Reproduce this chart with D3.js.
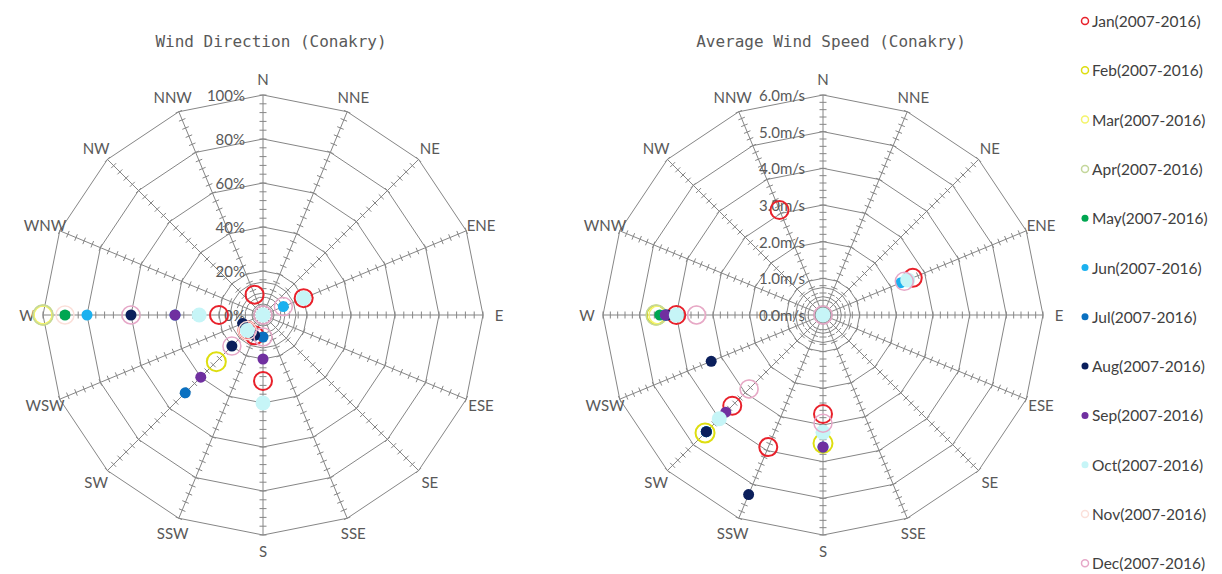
<!DOCTYPE html>
<html>
<head>
<meta charset="utf-8">
<script src="https://cdn.jsdelivr.net/npm/d3@7"></script>
<style>
  body { margin: 0; background: #fff; }
  svg text { font-family: Lato, "Open Sans", sans-serif; fill: #595959; }
  .title { font-family: "DejaVu Sans Mono", monospace; font-size: 16px; text-anchor: middle; }
  .dir-label { font-size: 15px; text-anchor: middle; dominant-baseline: central; }
  .axis-label { font-size: 15px; text-anchor: end; dominant-baseline: central; }
  .legend-text { font-size: 15.5px; fill: #404040; dominant-baseline: central; }
</style>
</head>
<body>
<div id="chart"></div>
<script>
// Directions, clockwise from north
const directions = ["N", "NNE", "NE", "ENE", "E", "ESE", "SE", "SSE",
                    "S", "SSW", "SW", "WSW", "W", "WNW", "NW", "NNW"];

const months = ["Jan(2007-2016)", "Feb(2007-2016)", "Mar(2007-2016)", "Apr(2007-2016)",
                "May(2007-2016)", "Jun(2007-2016)", "Jul(2007-2016)", "Aug(2007-2016)",
                "Sep(2007-2016)", "Oct(2007-2016)", "Nov(2007-2016)", "Dec(2007-2016)"];

// Frequency of direction (%), null = no point
//               N    NNE   NE   ENE   E    ESE   SE   SSE   S    SSW   SW   WSW   W    WNW   NW   NNW
const freqJan = [null,null,null,20,  null,null,null,null,30,  10,  10,  null,20,  null,null,10];
const freqFeb = [null,null,null,null,null,null,null,null,null,null,30,  null,100, null,null,null];
const freqMar = [null,null,null,null,null,null,null,null,null,null,null,null,100, null,null,null];
const freqApr = [null,null,null,null,null,null,null,null,null,null,null,null,100, null,null,null];
const freqMay = [null,null,null,null,null,null,null,null,null,null,10,  null,90,  null,null,null];
const freqJun = [null,null,null,10,  null,null,null,null,null,null,10,  null,80,  null,null,null];
const freqJul = [null,null,null,null,null,null,null,null,10,  null,50,  null,40,  null,null,null];
const freqAug = [null,null,null,null,null,null,null,null,null,10,  20,  10,  60,  null,null,null];
const freqSep = [null,null,null,null,null,null,null,null,20,  null,40,  null,40,  null,null,null];
const freqOct = [0,   null,null,20,  null,null,null,null,40,  null,10,  null,29,  null,null,null];
const freqNov = [null,null,null,null,null,null,null,null,null,null,10,  null,90,  null,null,null];
const freqDec = [0,   null,null,10,  null,null,null,null,10,  null,20,  null,60,  null,null,null];

// Average wind speed (m/s)
const speedJan = [null,null,null,2.65,null,null,null,null,2.7, 3.9, 3.5, null,4.0, null,null,3.1];
const speedFeb = [null,null,null,null,null,null,null,null,3.5, null,4.55,null,4.55,null,null,null];
const speedMar = [null,null,null,null,null,null,null,null,null,null,null,null,4.5, null,null,null];
const speedApr = [null,null,null,null,null,null,null,null,null,null,null,null,4.55,null,null,null];
const speedMay = [null,null,null,null,null,null,null,null,null,null,4.5, null,4.45,null,null,null];
const speedJun = [null,null,null,2.3, null,null,null,null,null,null,4.5, null,4.3, null,null,null];
const speedJul = [null,null,null,null,null,null,null,null,3.6, null,4.5, null,4.3, null,null,null];
const speedAug = [null,null,null,null,null,null,null,null,null,5.3, 4.5, 3.3, 4.25,null,null,null];
const speedSep = [null,null,null,null,null,null,null,null,3.6, null,3.75,null,4.3, null,null,null];
const speedOct = [0,   null,null,2.5, null,null,null,null,3.2, null,4.0, null,4.0, null,null,null];
const speedNov = [null,null,null,null,null,null,null,null,null,null,2.85,null,3.45,null,null,null];
const speedDec = [0,   null,null,2.4, null,null,null,null,2.95,null,2.85,null,3.45,null,null,null];

// Axis ticks
const pctTicks = [0, 20, 40, 60, 80, 100];
const speedTicks = [0, 1, 2, 3, 4, 5, 6];

const freqData = [freqJan, freqFeb, freqMar, freqApr, freqMay, freqJun,
                  freqJul, freqAug, freqSep, freqOct, freqNov, freqDec];
const speedData = [speedJan, speedFeb, speedMar, speedApr, speedMay, speedJun,
                   speedJul, speedAug, speedSep, speedOct, speedNov, speedDec];

// Marker styles per month
const markerStyle = [
  { color: "#e8212b", filled: false, r: 9, sw: 2 },
  { color: "#dede10", filled: false, r: 9.5, sw: 2 },
  { color: "#f4f46c", filled: false, r: 9, sw: 1.5 },
  { color: "#c4d79b", filled: false, r: 10, sw: 1.5 },
  { color: "#00a651", filled: true, r: 5.5 },
  { color: "#1cb1ef", filled: true, r: 5.5 },
  { color: "#0a70c0", filled: true, r: 5.5 },
  { color: "#0b1f5c", filled: true, r: 5.5 },
  { color: "#7030a0", filled: true, r: 5.5 },
  { color: "#c6f5f7", filled: true, r: 7.5 },
  { color: "#fbe0da", filled: false, r: 9, sw: 1.5 },
  { color: "#e6a8c8", filled: false, r: 9, sw: 1.5 }
];

const width = 1222;
const height = 574;

const svg = d3.select("#chart")
  .append("svg")
  .attr("width", width)
  .attr("height", height);

function drawRadar(cx, cy, data, ticks, minorStep, labelFmt, title) {
  const g = svg.append("g").attr("transform", `translate(${cx},${cy})`);
  const maxV = ticks[ticks.length - 1];
  const rScale = d3.scaleLinear().domain([0, maxV]).range([0, 220]);
  const aScale = d3.scaleLinear().domain([0, directions.length]).range([0, 2 * Math.PI]);
  const pt = (i, v) => [rScale(v) * Math.sin(aScale(i)), -rScale(v) * Math.cos(aScale(i))];

  // Title
  svg.append("text")
    .attr("class", "title")
    .attr("x", cx + 8)
    .attr("y", cy - 268)
    .text(title);

  // Rings (polygons), with finer rings inside the first band
  const step = ticks[1] - ticks[0];
  const ringVals = ticks.slice(1).concat([step / 4, step / 2, step * 3 / 4]);
  const ringLine = d3.line().curve(d3.curveLinearClosed);
  g.selectAll(".ring")
    .data(ringVals)
    .enter().append("path")
      .attr("class", "ring")
      .attr("d", v => ringLine(directions.map((d, i) => pt(i, v))))
      .attr("fill", "none")
      .attr("stroke", "#868686")
      .attr("stroke-width", 1);

  // Spokes
  g.selectAll(".spoke")
    .data(directions)
    .enter().append("line")
      .attr("class", "spoke")
      .attr("x1", 0).attr("y1", 0)
      .attr("x2", (d, i) => pt(i, maxV)[0])
      .attr("y2", (d, i) => pt(i, maxV)[1])
      .attr("stroke", "#868686")
      .attr("stroke-width", 1);

  // Minor tick marks across every spoke
  const minorVals = d3.range(minorStep, maxV + minorStep / 2, minorStep);
  const tickData = [];
  directions.forEach((d, i) => minorVals.forEach(v => tickData.push({ i, v })));
  g.selectAll(".minor")
    .data(tickData)
    .enter().append("line")
      .attr("class", "minor")
      .attr("x1", d => pt(d.i, d.v)[0] - 3.5 * Math.cos(aScale(d.i)))
      .attr("y1", d => pt(d.i, d.v)[1] - 3.5 * Math.sin(aScale(d.i)))
      .attr("x2", d => pt(d.i, d.v)[0] + 3.5 * Math.cos(aScale(d.i)))
      .attr("y2", d => pt(d.i, d.v)[1] + 3.5 * Math.sin(aScale(d.i)))
      .attr("stroke", "#868686")
      .attr("stroke-width", 1);

  // Axis labels along N spoke
  g.selectAll(".axis-label")
    .data(ticks)
    .enter().append("text")
      .attr("class", "axis-label")
      .attr("x", -18)
      .attr("y", v => -rScale(v))
      .text(labelFmt);

  // Direction labels
  g.selectAll(".dir-label")
    .data(directions)
    .enter().append("text")
      .attr("class", "dir-label")
      .attr("x", (d, i) => 236 * Math.sin(aScale(i)))
      .attr("y", (d, i) => -236 * Math.cos(aScale(i)))
      .text(d => d);

  // Markers, Jan first so Dec ends on top
  data.forEach((series, m) => {
    const st = markerStyle[m];
    const pts = series.map((v, i) => ({ i, v })).filter(d => d.v !== null);
    g.append("g")
      .selectAll("circle")
      .data(pts)
      .enter().append("circle")
        .attr("cx", d => pt(d.i, d.v)[0])
        .attr("cy", d => pt(d.i, d.v)[1])
        .attr("r", st.r)
        .attr("fill", st.filled ? st.color : "none")
        .attr("stroke", st.filled ? "none" : st.color)
        .attr("stroke-width", st.sw || 0);
  });
}

drawRadar(263, 315, freqData, pctTicks, 4, v => v + "%", "Wind Direction (Conakry)");
drawRadar(823, 315, speedData, speedTicks, 0.2, v => v.toFixed(1) + "m/s", "Average Wind Speed (Conakry)");

// Legend
const legend = svg.append("g")
  .attr("transform", "translate(1085, 21)");

const legendStep = 49.3;
months.forEach((name, m) => {
  const st = markerStyle[m];
  const item = legend.append("g")
    .attr("transform", `translate(0, ${m * legendStep})`);

  item.append("circle")
    .attr("r", 3.5)
    .attr("fill", st.filled ? st.color : "none")
    .attr("stroke", st.filled ? "none" : st.color)
    .attr("stroke-width", 1.5);

  item.append("text")
    .attr("class", "legend-text")
    .attr("x", 7)
    .attr("y", 0)
    .text(name);
});
</script>
</body>
</html>
